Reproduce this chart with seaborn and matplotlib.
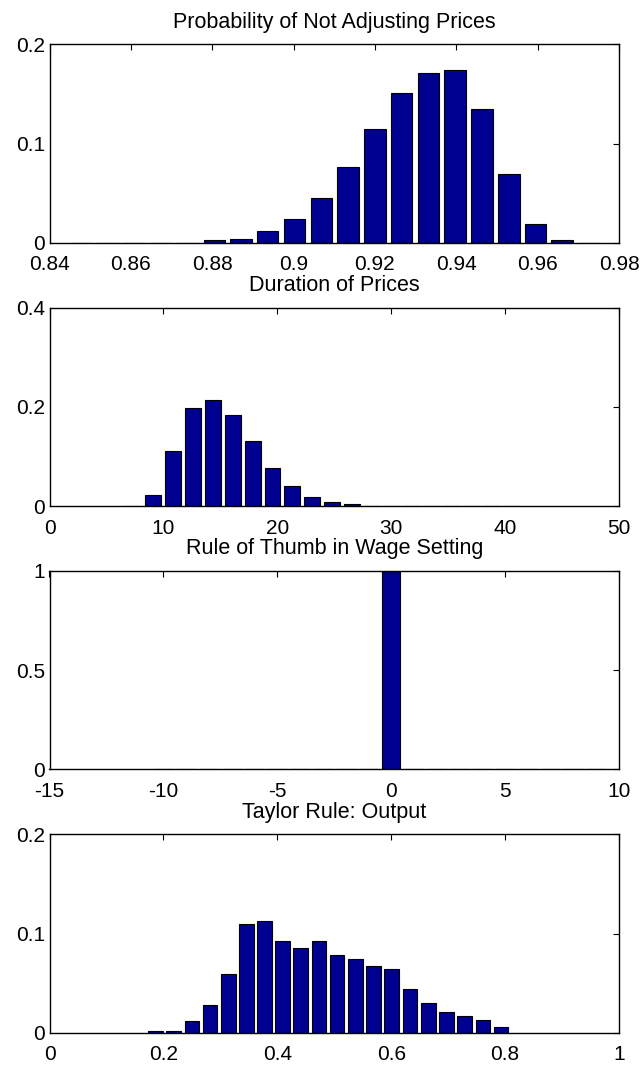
import matplotlib
matplotlib.use("Agg")
import matplotlib.pyplot as plt
import numpy as np
import pandas as pd
import seaborn as sns
from matplotlib.ticker import FuncFormatter

# panel titles
titles = ['Probability of Not Adjusting Prices', 'Duration of Prices',
          'Rule of Thumb in Wage Setting', 'Taylor Rule: Output']

# bin centres and relative frequencies (20 bins each)
theta_x = [0.8476, 0.8542, 0.8608, 0.8673, 0.8739, 0.8805, 0.8871, 0.8937, 0.9002, 0.9068,
           0.9134, 0.9200, 0.9266, 0.9331, 0.9397, 0.9463, 0.9529, 0.9595, 0.9660, 0.9726]
theta_y = [0.0, 0.0, 0.0, 0.0, 0.0, 0.0023, 0.0034, 0.0114, 0.0235, 0.0453,
           0.0765, 0.1151, 0.1510, 0.1711, 0.1745, 0.1349, 0.0695, 0.0185, 0.0023, 0.0]

dur_x = [7.30, 9.05, 10.81, 12.56, 14.32, 16.07, 17.83, 19.58, 21.33, 23.09,
         24.84, 26.60, 28.35, 30.11, 31.86, 33.62, 35.37, 37.13, 38.88, 40.64]
dur_y = [0.0, 0.0227, 0.1104, 0.1967, 0.2147, 0.1826, 0.1311, 0.0776, 0.0408, 0.0187,
         0.0087, 0.0047, 0.0010, 0.0, 0.0, 0.0, 0.0, 0.0, 0.0, 0.0]

rot_x = [-10, -9, -8, -7, -6, -5, -4, -3, -2, -1, 0, 1, 2, 3, 4, 5, 6, 7, 8, 9]
rot_y = [0, 0, 0, 0, 0, 0, 0, 0, 0, 0, 1, 0, 0, 0, 0, 0, 0, 0, 0, 0]

taylor_x = [0.186, 0.218, 0.250, 0.282, 0.314, 0.346, 0.378, 0.409, 0.441, 0.473,
            0.505, 0.537, 0.569, 0.601, 0.633, 0.665, 0.697, 0.729, 0.761, 0.793]
taylor_y = [0.0021, 0.0020, 0.0113, 0.0277, 0.0596, 0.1092, 0.1130, 0.0928, 0.0856, 0.0928,
            0.0781, 0.0740, 0.0668, 0.0647, 0.0445, 0.0298, 0.0205, 0.0168, 0.0130, 0.0055]

sns.set_style("white")
plt.rcParams['font.family'] = ['Liberation Sans', 'DejaVu Sans']

navy = '#000090'
fmt = FuncFormatter(lambda v, _: f"{v:g}")


def draw_hist(ax, centers, freqs, xticks, yticks, title):
    df = pd.DataFrame({'x': [float(c) for c in centers], 'w': [float(f) for f in freqs]})
    step = float(np.diff(df['x']).mean())
    edges = [c - step / 2 for c in df['x']] + [df['x'].iloc[-1] + step / 2]
    sns.histplot(data=df, x='x', weights='w', bins=edges, shrink=0.8, ax=ax,
                 color=navy, edgecolor='black', linewidth=0.8, alpha=1)
    ax.set_xlim(xticks[0], xticks[-1])
    ax.set_ylim(yticks[0], yticks[-1])
    ax.set_xticks(xticks)
    ax.set_yticks(yticks)
    ax.xaxis.set_major_formatter(fmt)
    ax.yaxis.set_major_formatter(fmt)
    ax.set_xlabel('')
    ax.set_ylabel('')
    ax.set_title(title, fontsize=15.5, pad=12, color='black')
    ax.tick_params(direction='in', top=True, right=True, length=4, width=0.8,
                   labelsize=15, colors='black')
    ax.tick_params(axis='x', pad=9)
    ax.tick_params(axis='y', pad=3)
    for sp in ax.spines.values():
        sp.set_color('black')
        sp.set_linewidth(1.0)


fig = plt.figure(figsize=(6.44, 10.67), dpi=100)
left, width = 49.5 / 644, 569.5 / 644
h_px = 198.4
tops = [44.3, 307.6, 571.0, 834.3]
axes = [fig.add_axes([left, 1 - (t + h_px) / 1067, width, h_px / 1067]) for t in tops]

draw_hist(axes[0], theta_x, theta_y, [0.84, 0.86, 0.88, 0.9, 0.92, 0.94, 0.96, 0.98],
          [0, 0.1, 0.2], titles[0])
draw_hist(axes[1], dur_x, dur_y, [0, 10, 20, 30, 40, 50], [0, 0.2, 0.4], titles[1])
draw_hist(axes[2], rot_x, rot_y, [-15, -10, -5, 0, 5, 10], [0, 0.5, 1], titles[2])
draw_hist(axes[3], taylor_x, taylor_y, [0, 0.2, 0.4, 0.6, 0.8, 1], [0, 0.1, 0.2], titles[3])

fig.savefig('out.png', dpi=100, facecolor='white')
